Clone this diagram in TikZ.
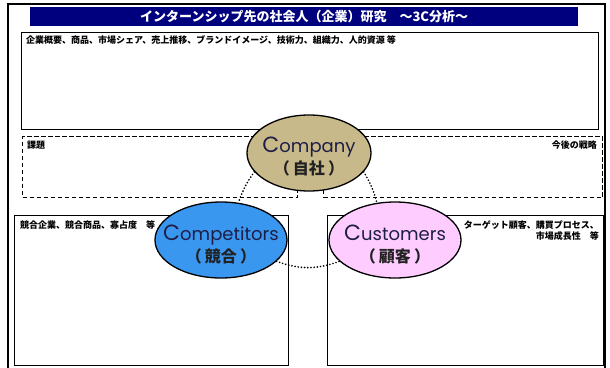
\documentclass[tikz,border=0pt]{standalone}
\usepackage{fontspec}
\usetikzlibrary{shapes.geometric}
\newfontfamily\jp{Noto Sans CJK JP}
\newfontfamily\en{Poppins}
\definecolor{navybar}{HTML}{00007F}
\definecolor{tanfill}{HTML}{C8B98A}
\definecolor{compblue}{HTML}{3A97F0}
\definecolor{custpink}{HTML}{FFCCFF}
\definecolor{entx}{HTML}{1E1E46}
\definecolor{jptx}{HTML}{222222}
\tikzset{
  boxframe/.style={draw=black, line width=1.2pt, inner sep=0pt, anchor=north west},
  dashframe/.style={draw=black, line width=1.1pt, dash pattern=on 4.5pt off 2.5pt, inner sep=0pt, anchor=north west},
  lbl/.style={font=\jp\bfseries\fontsize{9}{11}\selectfont, inner sep=0pt, text=black},
  ellip/.style={ellipse, draw=black, line width=1.3pt, inner sep=0pt, minimum height=76pt},
  entext/.style={font=\en\fontsize{18}{20}\selectfont, text=entx, inner sep=0pt, anchor=base},
  jptext/.style={font=\jp\bfseries\fontsize{16}{18}\selectfont, text=jptx, inner sep=0pt, anchor=base},
  dotline/.style={draw=black, line width=1.9pt, line cap=round, dash pattern=on 0pt off 3.2pt},
}
\newcommand{\bigC}{{\fontsize{22}{22}\selectfont C}}
\begin{document}
\begin{tikzpicture}[x=1pt,y=1pt]
\useasboundingbox (0,0) rectangle (610,-367);
\fill[white] (0,0) rectangle (610,-367);
% outer frame
\draw[line width=1.8pt] (8,-4) rectangle (605,-380);
% title bar
\node[fill=navybar, inner sep=0pt, minimum width=548pt, minimum height=19pt, anchor=north west] (titlebar) at (30,-7) {};
\node[font=\jp\bfseries\fontsize{13}{15}\selectfont, text=white, inner sep=0pt] (titletext) at (titlebar.center) {インターンシップ先の社会人（企業）研究　～3C分析～};
% top box
\node[boxframe, minimum width=577pt, minimum height=97pt] (topbox) at (21,-32) {};
\node[lbl, anchor=west] (topT) at (26,-40) {企業概要、商品、市場シェア、売上推移、ブランドイメージ、技術力、組織力、人的資源 等};
% dashed boxes
\node[dashframe, minimum width=275pt, minimum height=61pt] (issuebox) at (22,-136) {};
\node[dashframe, minimum width=279pt, minimum height=61pt] (strategybox) at (323,-136) {};
\node[lbl, anchor=west] (issueT) at (27,-145) {課題};
\node[lbl, anchor=east] (strategyT) at (597,-145) {今後の戦略};
% bottom boxes
\node[boxframe, minimum width=274pt, minimum height=150pt] (compbox) at (14,-215) {};
\node[boxframe, minimum width=276pt, minimum height=150pt] (custbox) at (327,-215) {};
\node[lbl, anchor=west] (compT) at (20,-225) {競合企業、競合商品、寡占度　等};
\node[lbl, anchor=north east, align=right] (custT) at (599,-220) {ターゲット顧客、購買プロセス、\\市場成長性　等};
% ellipses
\node[ellip, fill=tanfill, minimum width=124pt] (company) at (309,-153) {};
\node[ellip, fill=compblue, minimum width=132pt] (competitors) at (221,-240) {};
\node[ellip, fill=custpink, minimum width=132pt] (customers) at (395,-240) {};
% ellipse texts
\node[entext] (companyE) at (309,-152) {\bigC ompany};
\node[jptext] (companyJ) at (309,-174) {（\hspace{0.2em}自社\hspace{0.2em}）};
\node[entext] (competitorsE) at (221,-240) {\bigC ompetitors};
\node[jptext] (competitorsJ) at (221,-262) {（\hspace{0.2em}競合\hspace{0.2em}）};
\node[entext] (customersE) at (395,-240) {\bigC ustomers};
\node[jptext] (customersJ) at (395,-262) {（\hspace{0.2em}顧客\hspace{0.2em}）};
% dotted connectors
\draw[dotline] (company.199) to[bend right=8] (competitors.65);
\draw[dotline] (company.341) to[bend left=8] (customers.116);
\draw[dotline] (competitors.339) to[bend right=20] (customers.201);
\end{tikzpicture}
\end{document}
